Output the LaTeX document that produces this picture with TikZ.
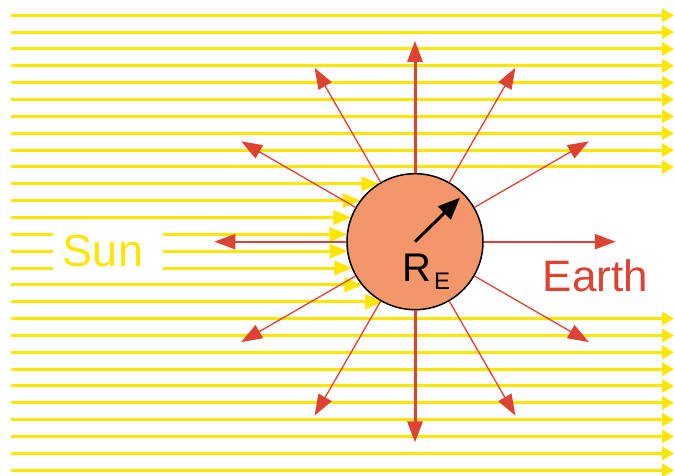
\documentclass[tikz,border=0pt]{standalone}
\usepackage{fontspec}
\setmainfont{Liberation Sans}
\usetikzlibrary{arrows.meta}
\definecolor{sunyellow}{RGB}{255,230,0}
\definecolor{rayred}{RGB}{221,66,50}
\definecolor{earthfill}{RGB}{243,150,105}

\begin{document}
\begin{tikzpicture}[x=1pt,y=1pt,
  sunray/.style={sunyellow,line width=3pt,-{Triangle[length=12pt,width=13pt]}},
  hitray/.style={sunyellow,line width=3pt,-{Triangle[length=18pt,width=14pt]}},
  field/.style={rayred,-{Triangle[length=21pt,width=15pt]}}]
\useasboundingbox (0,0) rectangle (674,476);
% sunlight
\foreach \k in {0,...,9,18,19,...,27}{
  \pgfmathsetmacro\yy{460.7-16.85*\k}
  \draw[sunray] (11,\yy) -- (674,\yy);
}
\foreach \k in {10,11,12,16,17}{
  \pgfmathsetmacro\yy{460.7-16.85*\k}
  \pgfmathsetmacro\xx{415-sqrt(4624-(\yy-234.3)^2)}
  \draw[hitray] (11,\yy) -- (\xx,\yy);
}
\foreach \k in {13,14,15}{
  \pgfmathsetmacro\yy{460.7-16.85*\k}
  \pgfmathsetmacro\xx{415-sqrt(4624-(\yy-234.3)^2)}
  \draw[sunyellow,line width=3pt] (11,\yy) -- (53,\yy);
  \draw[hitray] (163,\yy) -- (\xx,\yy);
}
\node[sunyellow,anchor=base,font=\fontsize{45}{45}\selectfont] (sun) at (103,209) {Sun};
% earth
\node[circle,draw=black,line width=1.5pt,fill=earthfill,minimum size=136pt,inner sep=0pt] (earth) at (415,234.3) {};
\foreach \a in {30,60,120,150,210,240,300,330}
  \draw[field,line width=1.3pt] (earth.\a) -- ++(\a:132);
\foreach \a in {90,270}
  \draw[field,line width=3pt] (earth.\a) -- ++(\a:132);
\foreach \a in {0,180}
  \draw[field,line width=2pt] (earth.\a) -- ++(\a:132);
\coordinate (rim) at (460,278.3);
\draw[line width=3pt,-{Triangle[length=22pt,width=18pt]}] (earth.center) -- (rim);
\node[anchor=base west,inner sep=0pt,font=\fontsize{40}{40}\selectfont] (radius) at (402,194) {R\kern3pt\raisebox{-8pt}{\fontsize{24}{24}\selectfont E}};
\node[rayred,anchor=base,font=\fontsize{44}{44}\selectfont] (earthname) at (595.5,184.3) {Earth};
\end{tikzpicture}
\end{document}
